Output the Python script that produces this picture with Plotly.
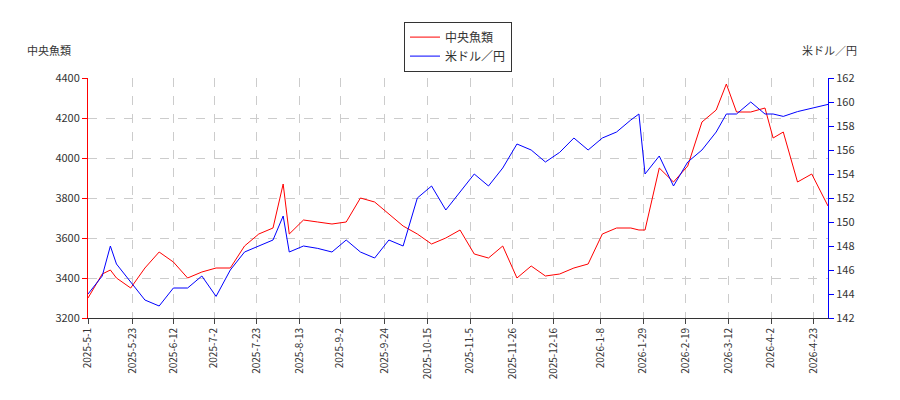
import plotly.graph_objects as go

dates = ["2025-05-01","2025-05-08","2025-05-12","2025-05-15","2025-05-22","2025-05-29","2025-06-05","2025-06-12","2025-06-19","2025-06-26","2025-07-03","2025-07-10","2025-07-17","2025-07-24","2025-07-31","2025-08-05","2025-08-08","2025-08-15","2025-08-22","2025-08-29","2025-09-05","2025-09-12","2025-09-19","2025-09-26","2025-10-03","2025-10-10","2025-10-17","2025-10-24","2025-10-31","2025-11-07","2025-11-14","2025-11-21","2025-11-28","2025-12-05","2025-12-12","2025-12-19","2025-12-26","2026-01-02","2026-01-09","2026-01-16","2026-01-23","2026-01-27","2026-01-30","2026-02-06","2026-02-13","2026-02-20","2026-02-27","2026-03-06","2026-03-11","2026-03-16","2026-03-23","2026-03-30","2026-04-03","2026-04-08","2026-04-15","2026-04-22","2026-04-30"]
stock = [3300,3420,3440,3400,3350,3450,3530,3480,3400,3430,3450,3450,3560,3620,3650,3870,3620,3690,3680,3670,3680,3800,3780,3720,3660,3620,3570,3600,3640,3520,3500,3560,3400,3460,3410,3420,3450,3470,3620,3650,3650,3640,3640,3950,3880,3960,4180,4240,4370,4230,4230,4250,4100,4130,3880,3920,3760]
usd = [144,145.5,148,146.5,145,143.5,143,144.5,144.5,145.5,143.8,146,147.5,148,148.5,150.5,147.5,148,147.8,147.5,148.5,147.5,147,148.5,148,152,153,151,152.5,154,153,154.5,156.5,156,155,155.8,157,156,157,157.5,158.5,159,154,155.5,153,155,156,157.5,159,159,160,159,159,158.8,159.2,159.5,159.8]
tickdates = ["2025-05-01","2025-05-23","2025-06-12","2025-07-02","2025-07-23","2025-08-13","2025-09-02","2025-09-24","2025-10-15","2025-11-05","2025-11-26","2025-12-16","2026-01-08","2026-01-29","2026-02-19","2026-03-12","2026-04-02","2026-04-23"]
ticklabels = ["2025-5-1","2025-5-23","2025-6-12","2025-7-2","2025-7-23","2025-8-13","2025-9-2","2025-9-24","2025-10-15","2025-11-5","2025-11-26","2025-12-16","2026-1-8","2026-1-29","2026-2-19","2026-3-12","2026-4-2","2026-4-23"]

fig = go.Figure()
fig.add_trace(go.Scatter(x=dates, y=stock, name="中央魚類", line=dict(color="red", width=1)))
fig.add_trace(go.Scatter(x=dates, y=usd, name="米ドル／円", yaxis="y2", line=dict(color="blue", width=1)))
fig.update_layout(
    width=900, height=400, plot_bgcolor="white", paper_bgcolor="white",
    margin=dict(l=80, r=80, t=70, b=90, autoexpand=False),
    font=dict(family="Noto Sans CJK JP", size=11, color="#333"),
    legend=dict(x=0.5, y=1.235, xanchor="center", yanchor="top", bordercolor="#333", borderwidth=1, font=dict(size=12)),
    xaxis=dict(type="date", range=["2025-05-01","2026-04-30"], tickvals=tickdates, ticktext=ticklabels, tickangle=-90,
               automargin=False, showgrid=True, gridcolor="#ccc", griddash="dash", showline=True, linecolor="#333",
               ticks="outside", tickfont=dict(size=10)),
    yaxis=dict(range=[3200,4400], dtick=200, automargin=False, showgrid=True, gridcolor="#ccc", griddash="dash",
               showline=True, linecolor="red", ticks="outside", tickcolor="red", tickfont=dict(size=11)),
    yaxis2=dict(range=[142,162], dtick=2, overlaying="y", side="right", automargin=False, showgrid=False,
                showline=True, linecolor="blue", ticks="outside", tickcolor="blue", tickfont=dict(size=11)),
    annotations=[
        dict(text="中央魚類", xref="paper", yref="paper", x=-0.085, y=1.075, yanchor="bottom", showarrow=False, xanchor="left", font=dict(size=11)),
        dict(text="米ドル／円", xref="paper", yref="paper", x=1.042, y=1.075, yanchor="bottom", showarrow=False, xanchor="right", font=dict(size=11)),
    ],
)
fig.write_html("out.html")
